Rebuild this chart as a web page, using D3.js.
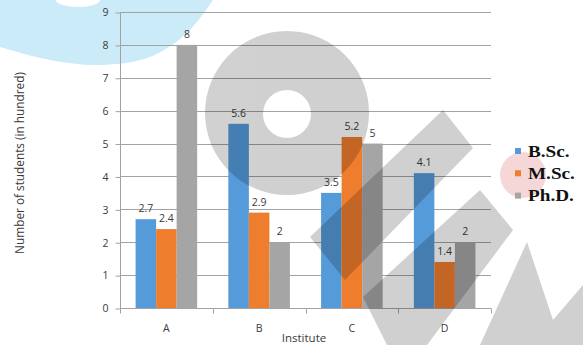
<!DOCTYPE html>
<html>
<head>
<meta charset="utf-8">
<script src="https://cdn.jsdelivr.net/npm/d3@7"></script>
<style>
  html, body { margin: 0; padding: 0; background: #fff; }
  svg { display: block; }
</style>
</head>
<body>
<svg id="chart" width="583" height="345"></svg>
<script>
// ---- data ----
const institutes = ["A", "B", "C", "D"];
const seriesNames = ["B.Sc.", "M.Sc.", "Ph.D."];
const bscValues = [2.7, 5.6, 3.5, 4.1];
const mscValues = [2.4, 2.9, 5.2, 1.4];
const phdValues = [8, 2, 5, 2];
const yTickValues = [0, 1, 2, 3, 4, 5, 6, 7, 8, 9];
const seriesColors = ["#559ad9", "#ef7d2e", "#a5a5a5"];

const seriesData = [bscValues, mscValues, phdValues];

const svg = d3.select("#chart");

// background watermark (cyan arc) — decoration under chart
const wm = svg.append("g");
wm.append("path")
  .attr("d", d3.line().curve(d3.curveCatmullRom)([[0,47],[50,60],[100,65],[150,57],[187,33],[213,0]]) + "L0,0Z")
  .attr("fill", "#5cc2ec").attr("opacity", 0.32);
wm.append("ellipse").attr("cx", 78).attr("cy", 0).attr("rx", 22).attr("ry", 7).attr("fill", "#fff");

// ---- scales ----
const x0 = d3.scaleBand().domain(institutes).range([120, 491]).paddingInner(0).paddingOuter(0);
const x1 = d3.scaleBand().domain(seriesNames).range([0, x0.bandwidth()]).paddingInner(0).paddingOuter(0.76);
const y = d3.scaleLinear().domain([0, 9]).range([308, 12]);

const gridColor = "#a2a2a2";
const textColor = "#3a3a3a";
const sans = "'Open Sans', sans-serif";

// gridlines
svg.append("g").selectAll("line").data(yTickValues.filter(d => d > 0)).join("line")
  .attr("x1", 120).attr("x2", 491)
  .attr("y1", d => Math.round(y(d)) + 0.5).attr("y2", d => Math.round(y(d)) + 0.5)
  .attr("stroke", gridColor).attr("stroke-width", 1);

// y axis
const yAxis = svg.append("g").attr("transform", "translate(120.5,0.5)")
  .call(d3.axisLeft(y).tickValues(yTickValues).tickSize(5).tickPadding(7).tickFormat(d3.format("d")));
yAxis.select(".domain").attr("stroke", gridColor).attr("d", `M0,${y(0)}V${y(9)}`);
yAxis.selectAll(".tick line").attr("stroke", gridColor);
yAxis.selectAll(".tick text").attr("font-family", sans).attr("font-size", 10.5).attr("fill", textColor);

// x axis
const xAxisG = svg.append("g").attr("transform", `translate(0,${Math.round(y(0)) + 0.5})`);
xAxisG.append("line").attr("x1", 120).attr("x2", 491).attr("y1", 0).attr("y2", 0).attr("stroke", gridColor);
const boundaries = institutes.map(d => x0(d)).concat([x0(institutes[institutes.length - 1]) + x0.bandwidth()]);
xAxisG.selectAll("line.tk").data(boundaries).join("line").attr("class", "tk")
  .attr("x1", d => Math.round(d) + 0.5).attr("x2", d => Math.round(d) + 0.5)
  .attr("y1", 0).attr("y2", 5).attr("stroke", gridColor);
xAxisG.selectAll("text").data(institutes).join("text")
  .attr("x", d => x0(d) + x0.bandwidth() / 2).attr("y", 23)
  .attr("text-anchor", "middle")
  .attr("font-family", sans).attr("font-size", 10.5).attr("fill", textColor)
  .text(d => d);

// bars
const groups = svg.append("g").selectAll("g").data(institutes).join("g")
  .attr("transform", d => `translate(${x0(d)},0)`);
groups.selectAll("rect").data((d, i) => seriesNames.map((s, k) => ({ s, k, v: seriesData[k][i] }))).join("rect")
  .attr("x", d => x1(d.s)).attr("width", x1.bandwidth())
  .attr("y", d => y(d.v)).attr("height", d => y(0) - y(d.v))
  .attr("fill", d => seriesColors[d.k]);
groups.selectAll("text").data((d, i) => seriesNames.map((s, k) => ({ s, k, v: seriesData[k][i] }))).join("text")
  .attr("x", d => x1(d.s) + x1.bandwidth() / 2).attr("y", d => y(d.v) - 7)
  .attr("text-anchor", "middle")
  .attr("font-family", sans).attr("font-size", 10.5).attr("fill", textColor)
  .text(d => d.v);

// axis titles
svg.append("text").attr("transform", "translate(24,163) rotate(-90)")
  .attr("text-anchor", "middle")
  .attr("font-family", sans).attr("font-size", 11.8).attr("fill", textColor)
  .text("Number of students (in hundred)");
svg.append("text").attr("x", 304).attr("y", 342)
  .attr("text-anchor", "middle")
  .attr("font-family", sans).attr("font-size", 11.5).attr("fill", textColor)
  .text("Institute");

// pink watermark circle behind legend
svg.append("circle").attr("cx", 523).attr("cy", 175).attr("r", 23).attr("fill", "#e07a7a").attr("opacity", 0.3);

// legend
const legend = svg.append("g").selectAll("g").data(seriesNames).join("g")
  .attr("transform", (d, i) => `translate(515,${151 + i * 22.3})`);
legend.append("rect").attr("x", 0).attr("y", -3).attr("width", 6).attr("height", 6)
  .attr("fill", (d, i) => seriesColors[i]);
legend.append("text").attr("x", 0).attr("y", 0).attr("dy", "0.35em")
  .attr("transform", "translate(13,0) scale(1.2,1)")
  .attr("font-family", "'Liberation Serif', 'Times New Roman', serif").attr("font-weight", "bold")
  .attr("font-size", 16).attr("fill", "#111")
  .text(d => d);

// grey watermark overlay
const ov = svg.append("g").attr("fill", "#000").attr("opacity", 0.18).style("pointer-events", "none");
const ring = d3.path();
ring.arc(287, 113, 82, 0, 2 * Math.PI); ring.closePath();
ring.moveTo(287 + 24, 114); ring.arc(287, 114, 24, 0, 2 * Math.PI, true); ring.closePath();
ov.append("path").attr("d", ring.toString()).attr("fill-rule", "evenodd");
const polys = [
  [[443,110],[473,148],[345,280],[310,237]],
  [[480,190],[513,230],[427,345],[387,345],[363,297]],
  [[527,242],[553,320],[583,285],[583,345],[480,345]]
];
ov.selectAll("polygon").data(polys).join("polygon").attr("points", d => d.map(p => p.join(",")).join(" "));
</script>
</body>
</html>
